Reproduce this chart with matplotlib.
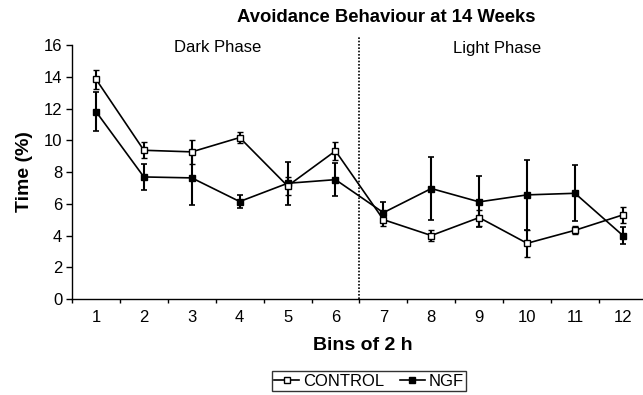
import matplotlib
matplotlib.use("Agg")
import matplotlib.pyplot as plt
from matplotlib.lines import Line2D
import numpy as np

plt.rcParams['font.family'] = ['Liberation Sans', 'DejaVu Sans']

bins = [1, 2, 3, 4, 5, 6, 7, 8, 9, 10, 11, 12]
control = [13.85, 9.37, 9.27, 10.17, 7.12, 9.33, 5.0, 4.0, 5.13, 3.51, 4.33, 5.3]
control_err = [0.6, 0.5, 0.75, 0.35, 0.55, 0.55, 0.4, 0.37, 0.5, 0.85, 0.25, 0.52]
ngf = [11.81, 7.69, 7.63, 6.14, 7.29, 7.52, 5.44, 6.96, 6.12, 6.56, 6.66, 4.0]
ngf_err = [1.2, 0.8, 1.7, 0.42, 1.37, 1.02, 0.65, 2.0, 1.6, 2.2, 1.77, 0.55]
yticks = [0, 2, 4, 6, 8, 10, 12, 14, 16]

fig = plt.figure(figsize=(6.43, 3.95), dpi=100)
ax = fig.add_axes([0.112, 0.243, 0.894, 0.643])

ax.errorbar(bins, ngf, yerr=ngf_err, color='black', lw=1.2, marker='s', ms=4.2,
            mfc='black', mec='black', capsize=2.5, elinewidth=1.5, capthick=1.2,
            zorder=3)
ax.errorbar(bins, control, yerr=control_err, color='black', lw=1.2, marker='s', ms=4.2,
            mfc='white', mec='black', mew=1.0, capsize=2.5, elinewidth=1.5, capthick=1.2,
            zorder=4)

ax.axvline(6.5, ymin=0, ymax=1.03, color='black', ls=(0, (1, 1)), lw=1.2, clip_on=False)

ax.set_xlim(0.5, 12.5)
ax.set_ylim(0, 16)
ax.set_yticks(yticks)
ax.set_yticklabels([str(v) for v in yticks], fontsize=12)
ax.set_xticks(np.arange(0.5, 13, 1))
ax.set_xticklabels([])
ax.set_xticks(bins, minor=True)
ax.set_xticklabels([str(b) for b in bins], minor=True, fontsize=12)
ax.tick_params(axis='x', which='major', direction='out', length=3, width=1)
ax.tick_params(axis='x', which='minor', length=0, pad=8)
ax.tick_params(axis='y', direction='out', length=4, width=1, pad=3)

for s in ['top', 'right']:
    ax.spines[s].set_visible(False)
for s in ['left', 'bottom']:
    ax.spines[s].set_linewidth(1.0)

ax.set_ylabel('Time (%)', fontsize=14, fontweight='bold', labelpad=8)
fig.text(363/643, 1 - 345/395, 'Bins of 2 h', fontsize=14, fontweight='bold',
         ha='center', va='center')
fig.text(386/643, 1 - 18/395, 'Avoidance Behaviour at 14 Weeks', fontsize=13.3,
         fontweight='bold', ha='center', va='center')
fig.text(218/643, 1 - 48/395, 'Dark Phase', fontsize=12, ha='center', va='center')
fig.text(497/643, 1 - 48/395, 'Light Phase', fontsize=12, ha='center', va='center')

handles = [Line2D([], [], color='black', lw=1.2, marker='s', ms=4.2, mfc='white', mec='black'),
           Line2D([], [], color='black', lw=1.2, marker='s', ms=4.2, mfc='black', mec='black')]
leg = fig.legend(handles, ['CONTROL', 'NGF'], loc='center',
                 bbox_to_anchor=(369/643, 1 - 381/395),
                 ncol=2, frameon=True, fancybox=False, edgecolor='black', fontsize=12,
                 handlelength=1.5, handletextpad=0.25, columnspacing=0.9,
                 borderpad=0.15, borderaxespad=0)
leg.get_frame().set_linewidth(1.0)

fig.savefig('out.png', dpi=100)
